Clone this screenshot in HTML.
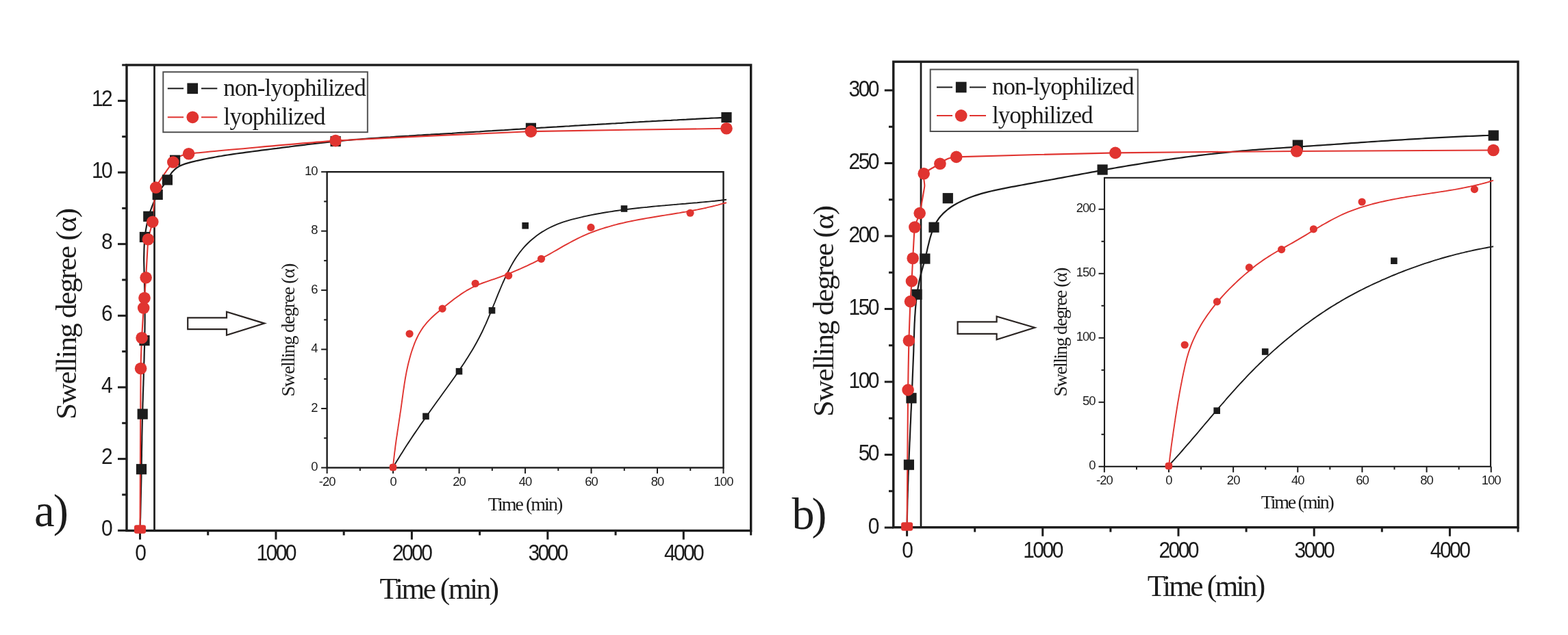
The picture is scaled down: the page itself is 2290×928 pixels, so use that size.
<!DOCTYPE html>
<html lang="en"><head><meta charset="utf-8"><title>Swelling degree vs. time</title>
<style>html,body{margin:0;padding:0;background:#fff;overflow:hidden}svg{display:block;filter:blur(0.55px)}text{white-space:pre}</style>
</head><body>
<svg width="2290" height="928" viewBox="0 0 2290 928" role="img" aria-label="Swelling degree versus time for non-lyophilized and lyophilized samples, panels a and b">
<rect x="0" y="0" width="2290" height="928" fill="#ffffff"/>
<g id="panel-a">
<rect x="185.00" y="95.00" width="911.70" height="680.50" fill="none" stroke="#1c1c1c" stroke-width="3.40"/>
<line x1="225.50" y1="95.00" x2="225.50" y2="775.50" stroke="#1c1c1c" stroke-width="2.70" />
<line x1="172.00" y1="775.30" x2="185.00" y2="775.30" stroke="#1c1c1c" stroke-width="3.00" />
<text x="0" y="0" font-family='"Liberation Sans", sans-serif' font-size="33.00" text-anchor="end" fill="#1c1c1c" transform="translate(162.00 783.10) scale(0.9100 1)"  letter-spacing="-2.90">0</text>
<line x1="172.00" y1="670.64" x2="185.00" y2="670.64" stroke="#1c1c1c" stroke-width="3.00" />
<text x="0" y="0" font-family='"Liberation Sans", sans-serif' font-size="33.00" text-anchor="end" fill="#1c1c1c" transform="translate(162.00 678.44) scale(0.9100 1)"  letter-spacing="-2.90">2</text>
<line x1="172.00" y1="565.98" x2="185.00" y2="565.98" stroke="#1c1c1c" stroke-width="3.00" />
<text x="0" y="0" font-family='"Liberation Sans", sans-serif' font-size="33.00" text-anchor="end" fill="#1c1c1c" transform="translate(162.00 573.78) scale(0.9100 1)"  letter-spacing="-2.90">4</text>
<line x1="172.00" y1="461.32" x2="185.00" y2="461.32" stroke="#1c1c1c" stroke-width="3.00" />
<text x="0" y="0" font-family='"Liberation Sans", sans-serif' font-size="33.00" text-anchor="end" fill="#1c1c1c" transform="translate(162.00 469.12) scale(0.9100 1)"  letter-spacing="-2.90">6</text>
<line x1="172.00" y1="356.66" x2="185.00" y2="356.66" stroke="#1c1c1c" stroke-width="3.00" />
<text x="0" y="0" font-family='"Liberation Sans", sans-serif' font-size="33.00" text-anchor="end" fill="#1c1c1c" transform="translate(162.00 364.46) scale(0.9100 1)"  letter-spacing="-2.90">8</text>
<line x1="172.00" y1="252.00" x2="185.00" y2="252.00" stroke="#1c1c1c" stroke-width="3.00" />
<text x="0" y="0" font-family='"Liberation Sans", sans-serif' font-size="33.00" text-anchor="end" fill="#1c1c1c" transform="translate(162.00 259.80) scale(0.9100 1)"  letter-spacing="-2.90">10</text>
<line x1="172.00" y1="147.34" x2="185.00" y2="147.34" stroke="#1c1c1c" stroke-width="3.00" />
<text x="0" y="0" font-family='"Liberation Sans", sans-serif' font-size="33.00" text-anchor="end" fill="#1c1c1c" transform="translate(162.00 155.14) scale(0.9100 1)"  letter-spacing="-2.90">12</text>
<line x1="178.20" y1="722.97" x2="185.00" y2="722.97" stroke="#1c1c1c" stroke-width="3.00" />
<line x1="178.20" y1="618.31" x2="185.00" y2="618.31" stroke="#1c1c1c" stroke-width="3.00" />
<line x1="178.20" y1="513.65" x2="185.00" y2="513.65" stroke="#1c1c1c" stroke-width="3.00" />
<line x1="178.20" y1="408.99" x2="185.00" y2="408.99" stroke="#1c1c1c" stroke-width="3.00" />
<line x1="178.20" y1="304.33" x2="185.00" y2="304.33" stroke="#1c1c1c" stroke-width="3.00" />
<line x1="178.20" y1="199.67" x2="185.00" y2="199.67" stroke="#1c1c1c" stroke-width="3.00" />
<line x1="178.20" y1="95.00" x2="185.00" y2="95.00" stroke="#1c1c1c" stroke-width="3.00" />
<line x1="204.50" y1="775.50" x2="204.50" y2="788.50" stroke="#1c1c1c" stroke-width="3.00" />
<text x="0" y="0" font-family='"Liberation Sans", sans-serif' font-size="33.00" text-anchor="middle" fill="#1c1c1c" transform="translate(204.20 818.60) scale(0.9100 1)"  letter-spacing="-2.90">0</text>
<line x1="402.95" y1="775.50" x2="402.95" y2="788.50" stroke="#1c1c1c" stroke-width="3.00" />
<text x="0" y="0" font-family='"Liberation Sans", sans-serif' font-size="33.00" text-anchor="middle" fill="#1c1c1c" transform="translate(402.65 818.60) scale(0.9100 1)"  letter-spacing="-2.90">1000</text>
<line x1="601.40" y1="775.50" x2="601.40" y2="788.50" stroke="#1c1c1c" stroke-width="3.00" />
<text x="0" y="0" font-family='"Liberation Sans", sans-serif' font-size="33.00" text-anchor="middle" fill="#1c1c1c" transform="translate(601.10 818.60) scale(0.9100 1)"  letter-spacing="-2.90">2000</text>
<line x1="799.85" y1="775.50" x2="799.85" y2="788.50" stroke="#1c1c1c" stroke-width="3.00" />
<text x="0" y="0" font-family='"Liberation Sans", sans-serif' font-size="33.00" text-anchor="middle" fill="#1c1c1c" transform="translate(799.55 818.60) scale(0.9100 1)"  letter-spacing="-2.90">3000</text>
<line x1="998.30" y1="775.50" x2="998.30" y2="788.50" stroke="#1c1c1c" stroke-width="3.00" />
<text x="0" y="0" font-family='"Liberation Sans", sans-serif' font-size="33.00" text-anchor="middle" fill="#1c1c1c" transform="translate(998.00 818.60) scale(0.9100 1)"  letter-spacing="-2.90">4000</text>
<line x1="303.73" y1="775.50" x2="303.73" y2="782.30" stroke="#1c1c1c" stroke-width="3.00" />
<line x1="502.17" y1="775.50" x2="502.17" y2="782.30" stroke="#1c1c1c" stroke-width="3.00" />
<line x1="700.62" y1="775.50" x2="700.62" y2="782.30" stroke="#1c1c1c" stroke-width="3.00" />
<line x1="899.07" y1="775.50" x2="899.07" y2="782.30" stroke="#1c1c1c" stroke-width="3.00" />
<line x1="1096.70" y1="775.50" x2="1096.70" y2="782.30" stroke="#1c1c1c" stroke-width="3.00" />
<path d="M204.5 774.0L204.6 769.5L204.8 765.0L204.9 760.5L205.1 756.0L205.2 751.5L205.3 747.0L205.4 742.5L205.5 738.0L205.6 733.5L205.7 729.0L205.8 724.4L205.9 719.9L206.0 715.4L206.1 710.9L206.2 706.4L206.3 701.9L206.4 697.4L206.4 692.8L206.5 688.3L206.6 683.8L206.7 679.3L206.7 674.8L206.8 670.2L206.9 665.7L206.9 661.2L207.0 656.7L207.1 652.2L207.2 647.7L207.3 643.1L207.3 638.6L207.4 634.1L207.5 629.6L207.6 625.1L207.7 620.6L207.8 616.1L207.9 611.5L208.0 607.0L208.1 602.5L208.3 598.0L208.4 593.5L208.5 589.0L208.7 584.5L208.8 580.0L208.9 575.5L209.1 571.0L209.2 566.5L209.4 562.0L209.5 557.5L209.7 553.0L209.8 548.5L209.9 544.0L210.1 539.5L210.2 535.0L210.3 530.5L210.5 526.0L210.6 521.5L210.7 516.9L210.8 512.4L211.0 507.9L211.1 503.4L211.2 498.9L211.2 494.4L211.3 489.9L211.4 485.4L211.5 480.9L211.5 476.4L211.6 471.9L211.6 467.4L211.6 462.8L211.6 458.3L211.6 453.8L211.6 449.3L211.6 444.8L211.6 440.2L211.5 435.7L211.4 431.2L211.3 426.6L211.2 422.1L211.1 417.6L211.0 413.0L210.9 408.5L210.7 403.9L210.6 399.4L210.5 394.9L210.4 390.3L210.3 385.8L210.2 381.3L210.2 376.7L210.3 372.2L210.4 367.7L210.5 363.2L210.7 358.7L211.0 354.3L211.3 349.8L211.8 345.3L212.3 340.9L212.9 336.5L213.7 332.0L214.5 327.7L215.4 323.3L216.5 318.9L217.7 314.6L219.0 310.2L220.5 306.0L222.1 301.7L223.8 297.5L225.6 293.4L227.6 289.3L229.7 285.2L231.9 281.3L234.3 277.4L236.7 273.7L239.3 270.0L241.9 266.3L244.3 262.6L246.6 258.7L249.0 254.8L251.7 251.2L254.9 247.9L258.3 245.1L262.2 242.8L266.2 241.0L270.5 239.4L274.9 238.1L279.3 236.9L283.7 235.9L288.1 234.8L292.5 233.9L296.9 232.9L301.3 232.0L305.7 231.2L310.2 230.3L314.6 229.5L319.0 228.7L323.5 228.0L327.9 227.2L332.4 226.5L336.8 225.9L341.3 225.2L345.7 224.5L350.2 223.9L354.7 223.3L359.2 222.7L363.6 222.1L368.1 221.5L372.6 220.9L377.1 220.3L381.6 219.7L386.0 219.2L390.5 218.6L395.0 218.0L399.5 217.4L404.0 216.9L408.4 216.3L412.9 215.7L417.4 215.1L421.9 214.6L426.3 214.0L430.8 213.4L435.3 212.9L439.8 212.3L444.2 211.8L448.7 211.2L453.2 210.7L457.7 210.2L462.1 209.6L466.6 209.1L471.1 208.6L475.6 208.1L480.1 207.6L484.6 207.2L489.0 206.7L493.5 206.3L498.0 205.8L502.5 205.4L507.0 205.0L511.5 204.6L516.0 204.2L520.5 203.9L525.0 203.5L529.5 203.1L534.0 202.8L538.5 202.4L543.0 202.1L547.5 201.8L552.0 201.5L556.5 201.2L561.0 200.8L565.5 200.5L570.0 200.3L574.5 200.0L579.0 199.7L583.5 199.4L588.0 199.1L592.5 198.8L597.0 198.6L601.5 198.3L606.0 198.0L610.5 197.7L615.0 197.5L619.5 197.2L624.1 196.9L628.6 196.7L633.1 196.4L637.6 196.1L642.1 195.9L646.6 195.6L651.1 195.3L655.6 195.0L660.1 194.8L664.6 194.5L669.1 194.2L673.6 193.9L678.1 193.7L682.6 193.4L687.1 193.1L691.6 192.8L696.1 192.5L700.6 192.3L705.1 192.0L709.6 191.7L714.2 191.4L718.7 191.2L723.2 190.9L727.7 190.6L732.2 190.3L736.7 190.1L741.2 189.8L745.7 189.5L750.2 189.2L754.7 188.9L759.2 188.7L763.7 188.4L768.2 188.1L772.7 187.8L777.2 187.6L781.7 187.3L786.2 187.0L790.7 186.7L795.2 186.5L799.7 186.2L804.2 185.9L808.7 185.6L813.2 185.4L817.7 185.1L822.2 184.8L826.7 184.5L831.2 184.3L835.7 184.0L840.2 183.7L844.7 183.5L849.3 183.2L853.8 182.9L858.3 182.7L862.8 182.4L867.3 182.1L871.8 181.9L876.3 181.6L880.8 181.3L885.3 181.1L889.8 180.8L894.3 180.5L898.8 180.3L903.3 180.0L907.8 179.8L912.3 179.5L916.8 179.2L921.3 179.0L925.8 178.7L930.3 178.5L934.8 178.2L939.3 178.0L943.8 177.7L948.3 177.5L952.8 177.2L957.3 177.0L961.9 176.7L966.4 176.5L970.9 176.2L975.4 176.0L979.9 175.8L984.4 175.5L988.9 175.3L993.4 175.0L997.9 174.8L1002.4 174.6L1006.9 174.3L1011.4 174.1L1015.9 173.9L1020.4 173.6L1024.9 173.4L1029.4 173.2L1034.0 173.0L1038.5 172.7L1043.0 172.5L1047.5 172.3L1052.0 172.1L1056.5 171.9L1061.0 171.6" fill="none" stroke="#1c1c1c" stroke-width="2.20" stroke-linejoin="round" stroke-linecap="butt"/>
<path d="M204.5 774.0C204.6 758.3 205.4 557.2 205.6 538.5C205.8 519.8 206.8 499.6 207.1 493.7C207.4 487.8 209.4 453.9 209.7 450.0C210.0 446.1 210.8 438.4 211.0 435.5C211.2 432.6 212.7 411.5 213.1 405.8C213.5 400.1 215.8 355.1 216.4 349.7C217.0 344.3 222.0 329.3 222.8 324.3C223.6 319.3 225.7 279.8 227.7 274.0C229.7 268.2 249.6 240.3 252.8 237.0C256.0 233.7 259.8 226.8 275.6 224.7C291.4 222.6 456.8 207.8 490.1 205.6C523.4 203.4 737.3 193.3 775.4 192.1C813.5 190.9 1042.0 188.1 1061.0 187.8" fill="none" stroke="#e03430" stroke-width="2.10" stroke-linejoin="round" stroke-linecap="butt"/>
<rect x="198.90" y="678.10" width="15.20" height="15.20" fill="#1c1c1c"/>
<rect x="200.60" y="597.50" width="15.20" height="15.20" fill="#1c1c1c"/>
<rect x="203.40" y="490.00" width="15.20" height="15.20" fill="#1c1c1c"/>
<rect x="203.80" y="338.90" width="15.20" height="15.20" fill="#1c1c1c"/>
<rect x="209.20" y="308.70" width="15.20" height="15.20" fill="#1c1c1c"/>
<rect x="222.60" y="276.80" width="15.20" height="15.20" fill="#1c1c1c"/>
<rect x="236.80" y="255.30" width="15.20" height="15.20" fill="#1c1c1c"/>
<rect x="248.00" y="226.60" width="15.20" height="15.20" fill="#1c1c1c"/>
<rect x="482.50" y="198.90" width="15.20" height="15.20" fill="#1c1c1c"/>
<rect x="767.80" y="179.70" width="15.20" height="15.20" fill="#1c1c1c"/>
<rect x="1053.40" y="164.00" width="15.20" height="15.20" fill="#1c1c1c"/>
<circle cx="205.60" cy="538.50" r="8.80" fill="#e03430"/>
<circle cx="207.10" cy="493.70" r="8.80" fill="#e03430"/>
<circle cx="209.70" cy="450.00" r="8.80" fill="#e03430"/>
<circle cx="211.00" cy="435.50" r="8.80" fill="#e03430"/>
<circle cx="213.10" cy="405.80" r="8.80" fill="#e03430"/>
<circle cx="216.40" cy="349.70" r="8.80" fill="#e03430"/>
<circle cx="222.80" cy="324.30" r="8.80" fill="#e03430"/>
<circle cx="227.70" cy="274.00" r="8.80" fill="#e03430"/>
<circle cx="252.80" cy="237.00" r="8.80" fill="#e03430"/>
<circle cx="275.60" cy="224.70" r="8.80" fill="#e03430"/>
<circle cx="490.10" cy="205.60" r="8.80" fill="#e03430"/>
<circle cx="775.40" cy="192.10" r="8.80" fill="#e03430"/>
<circle cx="1061.00" cy="187.80" r="8.80" fill="#e03430"/>
<rect x="196.00" y="767.35" width="17.00" height="12.50" rx="3.0" fill="#e03430"/>
<text x="111.30" y="458.50" font-family='"Liberation Serif", serif' font-size="43.00" text-anchor="middle" fill="#1c1c1c" textLength="309.00" lengthAdjust="spacing" transform="rotate(-90 111.30 458.50)" >Swelling degree (α)</text>
<text x="641.80" y="875.00" font-family='"Liberation Serif", serif' font-size="43.50" text-anchor="middle" fill="#1c1c1c" textLength="174.50" lengthAdjust="spacing" >Time (min)</text>
<text x="50.00" y="769.30" font-family='"Liberation Serif", serif' font-size="67.00" text-anchor="start" fill="#1c1c1c" textLength="50.00" lengthAdjust="spacing" >a)</text>
<rect x="238.30" y="105.20" width="298.50" height="88.00" fill="#fff" stroke="#505050" stroke-width="2.00"/>
<line x1="244.80" y1="129.30" x2="268.10" y2="129.30" stroke="#1c1c1c" stroke-width="2.00" />
<line x1="294.00" y1="129.30" x2="317.30" y2="129.30" stroke="#1c1c1c" stroke-width="2.00" />
<rect x="273.35" y="121.45" width="15.70" height="15.70" fill="#1c1c1c"/>
<text x="326.20" y="140.00" font-family='"Liberation Serif", serif' font-size="35.00" text-anchor="start" fill="#1c1c1c" textLength="208.50" lengthAdjust="spacing" >non-lyophilized</text>
<line x1="244.80" y1="171.30" x2="268.10" y2="171.30" stroke="#e03430" stroke-width="2.00" />
<line x1="294.00" y1="171.30" x2="317.30" y2="171.30" stroke="#e03430" stroke-width="2.00" />
<circle cx="281.30" cy="171.30" r="8.90" fill="#e03430"/>
<text x="326.60" y="182.00" font-family='"Liberation Serif", serif' font-size="35.00" text-anchor="start" fill="#1c1c1c" textLength="149.00" lengthAdjust="spacing" >lyophilized</text>
<path d="M274.2 464.3 L331 464.3 L331 455.8 L386.2 472.6 L331 489.7 L331 481.2 L274.2 481.2 Z" fill="#fff" stroke="#2a2422" stroke-width="2.20" stroke-linejoin="miter"/>
<rect x="477.60" y="251.20" width="578.90" height="432.30" fill="none" stroke="#1c1c1c" stroke-width="2.40"/>
<line x1="469.10" y1="683.50" x2="477.60" y2="683.50" stroke="#1c1c1c" stroke-width="2.00" />
<text x="0" y="0" font-family='"Liberation Sans", sans-serif' font-size="19.00" text-anchor="end" fill="#1c1c1c" transform="translate(463.60 688.20) scale(0.9700 1)"  letter-spacing="-1.00">0</text>
<line x1="469.10" y1="597.04" x2="477.60" y2="597.04" stroke="#1c1c1c" stroke-width="2.00" />
<text x="0" y="0" font-family='"Liberation Sans", sans-serif' font-size="19.00" text-anchor="end" fill="#1c1c1c" transform="translate(463.60 601.74) scale(0.9700 1)"  letter-spacing="-1.00">2</text>
<line x1="469.10" y1="510.58" x2="477.60" y2="510.58" stroke="#1c1c1c" stroke-width="2.00" />
<text x="0" y="0" font-family='"Liberation Sans", sans-serif' font-size="19.00" text-anchor="end" fill="#1c1c1c" transform="translate(463.60 515.28) scale(0.9700 1)"  letter-spacing="-1.00">4</text>
<line x1="469.10" y1="424.12" x2="477.60" y2="424.12" stroke="#1c1c1c" stroke-width="2.00" />
<text x="0" y="0" font-family='"Liberation Sans", sans-serif' font-size="19.00" text-anchor="end" fill="#1c1c1c" transform="translate(463.60 428.82) scale(0.9700 1)"  letter-spacing="-1.00">6</text>
<line x1="469.10" y1="337.66" x2="477.60" y2="337.66" stroke="#1c1c1c" stroke-width="2.00" />
<text x="0" y="0" font-family='"Liberation Sans", sans-serif' font-size="19.00" text-anchor="end" fill="#1c1c1c" transform="translate(463.60 342.36) scale(0.9700 1)"  letter-spacing="-1.00">8</text>
<line x1="469.10" y1="251.20" x2="477.60" y2="251.20" stroke="#1c1c1c" stroke-width="2.00" />
<text x="0" y="0" font-family='"Liberation Sans", sans-serif' font-size="19.00" text-anchor="end" fill="#1c1c1c" transform="translate(463.60 255.90) scale(0.9700 1)"  letter-spacing="-1.00">10</text>
<line x1="473.10" y1="640.27" x2="477.60" y2="640.27" stroke="#1c1c1c" stroke-width="2.00" />
<line x1="473.10" y1="553.81" x2="477.60" y2="553.81" stroke="#1c1c1c" stroke-width="2.00" />
<line x1="473.10" y1="467.35" x2="477.60" y2="467.35" stroke="#1c1c1c" stroke-width="2.00" />
<line x1="473.10" y1="380.89" x2="477.60" y2="380.89" stroke="#1c1c1c" stroke-width="2.00" />
<line x1="473.10" y1="294.43" x2="477.60" y2="294.43" stroke="#1c1c1c" stroke-width="2.00" />
<line x1="477.62" y1="683.50" x2="477.62" y2="692.00" stroke="#1c1c1c" stroke-width="2.00" />
<text x="0" y="0" font-family='"Liberation Sans", sans-serif' font-size="19.00" text-anchor="middle" fill="#1c1c1c" transform="translate(477.62 710.40) scale(0.9700 1)"  letter-spacing="-1.00">-20</text>
<line x1="574.10" y1="683.50" x2="574.10" y2="692.00" stroke="#1c1c1c" stroke-width="2.00" />
<text x="0" y="0" font-family='"Liberation Sans", sans-serif' font-size="19.00" text-anchor="middle" fill="#1c1c1c" transform="translate(574.10 710.40) scale(0.9700 1)"  letter-spacing="-1.00">0</text>
<line x1="670.58" y1="683.50" x2="670.58" y2="692.00" stroke="#1c1c1c" stroke-width="2.00" />
<text x="0" y="0" font-family='"Liberation Sans", sans-serif' font-size="19.00" text-anchor="middle" fill="#1c1c1c" transform="translate(670.58 710.40) scale(0.9700 1)"  letter-spacing="-1.00">20</text>
<line x1="767.06" y1="683.50" x2="767.06" y2="692.00" stroke="#1c1c1c" stroke-width="2.00" />
<text x="0" y="0" font-family='"Liberation Sans", sans-serif' font-size="19.00" text-anchor="middle" fill="#1c1c1c" transform="translate(767.06 710.40) scale(0.9700 1)"  letter-spacing="-1.00">40</text>
<line x1="863.54" y1="683.50" x2="863.54" y2="692.00" stroke="#1c1c1c" stroke-width="2.00" />
<text x="0" y="0" font-family='"Liberation Sans", sans-serif' font-size="19.00" text-anchor="middle" fill="#1c1c1c" transform="translate(863.54 710.40) scale(0.9700 1)"  letter-spacing="-1.00">60</text>
<line x1="960.02" y1="683.50" x2="960.02" y2="692.00" stroke="#1c1c1c" stroke-width="2.00" />
<text x="0" y="0" font-family='"Liberation Sans", sans-serif' font-size="19.00" text-anchor="middle" fill="#1c1c1c" transform="translate(960.02 710.40) scale(0.9700 1)"  letter-spacing="-1.00">80</text>
<line x1="1056.50" y1="683.50" x2="1056.50" y2="692.00" stroke="#1c1c1c" stroke-width="2.00" />
<text x="0" y="0" font-family='"Liberation Sans", sans-serif' font-size="19.00" text-anchor="middle" fill="#1c1c1c" transform="translate(1056.50 710.40) scale(0.9700 1)"  letter-spacing="-1.00">100</text>
<line x1="525.86" y1="683.50" x2="525.86" y2="688.00" stroke="#1c1c1c" stroke-width="2.00" />
<line x1="622.34" y1="683.50" x2="622.34" y2="688.00" stroke="#1c1c1c" stroke-width="2.00" />
<line x1="718.82" y1="683.50" x2="718.82" y2="688.00" stroke="#1c1c1c" stroke-width="2.00" />
<line x1="815.30" y1="683.50" x2="815.30" y2="688.00" stroke="#1c1c1c" stroke-width="2.00" />
<line x1="911.78" y1="683.50" x2="911.78" y2="688.00" stroke="#1c1c1c" stroke-width="2.00" />
<line x1="1008.26" y1="683.50" x2="1008.26" y2="688.00" stroke="#1c1c1c" stroke-width="2.00" />
<path d="M574.0 683.0L576.3 679.3L578.5 675.6L580.7 671.9L583.0 668.2L585.3 664.5L587.6 660.9L589.9 657.2L592.2 653.6L594.5 650.0L596.9 646.4L599.3 642.8L601.6 639.2L604.0 635.6L606.4 632.1L608.9 628.5L611.3 625.0L613.7 621.4L616.2 617.9L618.7 614.4L621.1 610.9L623.6 607.3L626.1 603.8L628.6 600.3L631.1 596.8L633.6 593.3L636.1 589.8L638.6 586.3L641.2 582.8L643.7 579.3L646.2 575.8L648.7 572.3L651.3 568.8L653.8 565.3L656.3 561.8L658.8 558.2L661.3 554.7L663.8 551.2L666.3 547.6L668.7 544.1L671.2 540.5L673.6 536.9L676.0 533.3L678.4 529.7L680.7 526.1L683.0 522.5L685.3 518.8L687.6 515.1L689.8 511.4L692.0 507.7L694.1 504.0L696.2 500.2L698.2 496.5L700.2 492.7L702.2 488.8L704.1 485.0L705.9 481.1L707.7 477.2L709.5 473.3L711.2 469.3L712.9 465.4L714.6 461.4L716.3 457.4L717.9 453.4L719.5 449.5L721.1 445.5L722.8 441.5L724.4 437.4L726.0 433.4L727.6 429.4L729.3 425.4L730.9 421.5L732.6 417.5L734.3 413.5L736.1 409.6L737.9 405.6L739.7 401.7L741.6 397.8L743.6 394.0L745.6 390.1L747.7 386.4L749.9 382.6L752.1 378.9L754.5 375.3L757.0 371.8L759.5 368.3L762.2 365.0L765.0 361.7L767.9 358.5L770.9 355.5L774.0 352.5L777.2 349.7L780.6 346.9L784.0 344.3L787.5 341.8L791.0 339.4L794.7 337.2L798.4 335.0L802.2 333.0L806.1 331.1L810.0 329.4L814.0 327.7L818.0 326.2L822.1 324.7L826.2 323.4L830.3 322.1L834.5 320.9L838.7 319.8L842.9 318.8L847.1 317.8L851.3 316.8L855.6 315.9L859.8 315.0L864.0 314.1L868.3 313.3L872.5 312.5L876.8 311.8L881.0 311.0L885.3 310.3L889.5 309.6L893.8 309.0L898.1 308.3L902.3 307.7L906.6 307.1L910.9 306.6L915.1 306.0L919.4 305.5L923.7 305.0L928.0 304.5L932.2 304.0L936.5 303.5L940.8 303.1L945.1 302.7L949.4 302.2L953.7 301.8L957.9 301.4L962.2 301.0L966.5 300.6L970.8 300.3L975.1 299.9L979.4 299.5L983.7 299.1L988.0 298.8L992.3 298.4L996.6 298.0L1000.9 297.7L1005.2 297.3L1009.5 296.9L1013.8 296.5L1018.1 296.2L1022.4 295.8L1026.7 295.4L1031.0 295.0L1035.2 294.6L1039.5 294.1L1043.8 293.7L1048.1 293.2L1052.4 292.8L1056.7 292.3L1061.0 291.8" fill="none" stroke="#1c1c1c" stroke-width="1.90" stroke-linejoin="round" stroke-linecap="butt"/>
<path d="M574.0 683.0L574.4 678.6L574.8 674.2L575.3 669.8L575.8 665.5L576.3 661.1L576.9 656.8L577.4 652.4L578.0 648.1L578.6 643.7L579.2 639.4L579.9 635.1L580.5 630.7L581.2 626.4L581.8 622.1L582.5 617.7L583.1 613.4L583.8 609.1L584.4 604.7L585.1 600.4L585.7 596.0L586.3 591.7L586.9 587.3L587.5 583.0L588.1 578.6L588.7 574.2L589.3 569.9L590.0 565.5L590.6 561.2L591.3 556.8L592.0 552.5L592.8 548.2L593.6 543.8L594.5 539.5L595.4 535.2L596.4 531.0L597.5 526.7L598.6 522.5L599.8 518.2L601.1 514.0L602.5 509.9L604.0 505.7L605.5 501.6L607.2 497.5L609.1 493.5L611.0 489.6L613.2 485.7L615.5 482.0L617.9 478.4L620.6 475.0L623.3 471.6L626.3 468.4L629.3 465.3L632.5 462.3L635.8 459.3L639.1 456.5L642.5 453.7L646.0 450.9L649.4 448.1L652.8 445.3L656.3 442.5L659.8 439.8L663.3 437.1L666.8 434.5L670.4 431.9L674.0 429.4L677.7 427.0L681.4 424.7L685.2 422.6L689.0 420.5L693.0 418.6L696.9 416.8L701.0 415.1L705.1 413.5L709.2 412.1L713.4 410.6L717.6 409.2L721.7 407.8L725.9 406.3L730.0 404.8L734.1 403.3L738.2 401.8L742.3 400.2L746.4 398.6L750.4 396.9L754.4 395.2L758.5 393.5L762.5 391.7L766.4 389.9L770.4 388.1L774.3 386.2L778.3 384.3L782.2 382.3L786.1 380.3L790.0 378.3L793.8 376.2L797.7 374.0L801.6 371.9L805.4 369.7L809.2 367.5L813.1 365.3L816.9 363.1L820.7 360.9L824.6 358.7L828.4 356.6L832.3 354.5L836.2 352.4L840.1 350.4L844.0 348.4L847.9 346.5L851.9 344.6L855.9 342.9L859.9 341.2L864.0 339.6L868.1 338.0L872.1 336.6L876.3 335.1L880.4 333.8L884.6 332.5L888.8 331.3L893.0 330.1L897.2 328.9L901.4 327.8L905.7 326.8L909.9 325.8L914.2 324.8L918.5 323.9L922.8 323.0L927.1 322.1L931.5 321.3L935.8 320.5L940.1 319.7L944.5 318.9L948.8 318.2L953.2 317.5L957.6 316.7L961.9 316.0L966.3 315.3L970.7 314.6L975.0 313.9L979.4 313.2L983.8 312.5L988.1 311.8L992.5 311.1L996.8 310.3L1001.2 309.6L1005.5 308.8L1009.9 308.0L1014.2 307.2L1018.5 306.4L1022.8 305.5L1027.1 304.6L1031.4 303.7L1035.6 302.7L1039.9 301.7L1044.1 300.7L1048.3 299.6L1052.5 298.4L1056.7 297.2L1061.0 296.2" fill="none" stroke="#e03430" stroke-width="1.90" stroke-linejoin="round" stroke-linecap="butt"/>
<rect x="617.20" y="603.60" width="9.60" height="9.60" fill="#1c1c1c"/>
<rect x="665.70" y="537.90" width="9.60" height="9.60" fill="#1c1c1c"/>
<rect x="713.70" y="448.90" width="9.60" height="9.60" fill="#1c1c1c"/>
<rect x="762.40" y="325.00" width="9.60" height="9.60" fill="#1c1c1c"/>
<rect x="906.70" y="300.20" width="9.60" height="9.60" fill="#1c1c1c"/>
<rect x="568.75" y="677.75" width="10.50" height="10.50" rx="4.0" fill="#e03430"/>
<circle cx="598.10" cy="487.80" r="5.60" fill="#e03430"/>
<circle cx="646.10" cy="451.10" r="5.60" fill="#e03430"/>
<circle cx="694.20" cy="414.30" r="5.60" fill="#e03430"/>
<circle cx="742.70" cy="402.80" r="5.60" fill="#e03430"/>
<circle cx="790.50" cy="378.30" r="5.60" fill="#e03430"/>
<circle cx="863.00" cy="332.40" r="5.60" fill="#e03430"/>
<circle cx="1008.00" cy="311.25" r="5.60" fill="#e03430"/>
<text x="430.20" y="482.00" font-family='"Liberation Serif", serif' font-size="27.50" text-anchor="middle" fill="#1c1c1c" textLength="195.00" lengthAdjust="spacing" transform="rotate(-90 430.20 482.00)" >Swelling degree (α)</text>
<text x="767.50" y="746.40" font-family='"Liberation Serif", serif' font-size="28.00" text-anchor="middle" fill="#1c1c1c" textLength="109.50" lengthAdjust="spacing" >Time (min)</text>
</g>
<g id="panel-b">
<rect x="1304.80" y="90.20" width="912.20" height="680.50" fill="none" stroke="#1c1c1c" stroke-width="3.40"/>
<line x1="1345.00" y1="90.20" x2="1345.00" y2="770.70" stroke="#1c1c1c" stroke-width="2.70" />
<line x1="1291.80" y1="771.00" x2="1304.80" y2="771.00" stroke="#1c1c1c" stroke-width="3.00" />
<text x="0" y="0" font-family='"Liberation Sans", sans-serif' font-size="33.00" text-anchor="end" fill="#1c1c1c" transform="translate(1282.00 779.60) scale(0.9100 1)"  letter-spacing="-2.80">0</text>
<line x1="1291.80" y1="664.50" x2="1304.80" y2="664.50" stroke="#1c1c1c" stroke-width="3.00" />
<text x="0" y="0" font-family='"Liberation Sans", sans-serif' font-size="33.00" text-anchor="end" fill="#1c1c1c" transform="translate(1282.00 673.10) scale(0.9100 1)"  letter-spacing="-2.80">50</text>
<line x1="1291.80" y1="558.00" x2="1304.80" y2="558.00" stroke="#1c1c1c" stroke-width="3.00" />
<text x="0" y="0" font-family='"Liberation Sans", sans-serif' font-size="33.00" text-anchor="end" fill="#1c1c1c" transform="translate(1282.00 566.60) scale(0.9100 1)"  letter-spacing="-2.80">100</text>
<line x1="1291.80" y1="451.50" x2="1304.80" y2="451.50" stroke="#1c1c1c" stroke-width="3.00" />
<text x="0" y="0" font-family='"Liberation Sans", sans-serif' font-size="33.00" text-anchor="end" fill="#1c1c1c" transform="translate(1282.00 460.10) scale(0.9100 1)"  letter-spacing="-2.80">150</text>
<line x1="1291.80" y1="345.00" x2="1304.80" y2="345.00" stroke="#1c1c1c" stroke-width="3.00" />
<text x="0" y="0" font-family='"Liberation Sans", sans-serif' font-size="33.00" text-anchor="end" fill="#1c1c1c" transform="translate(1282.00 353.60) scale(0.9100 1)"  letter-spacing="-2.80">200</text>
<line x1="1291.80" y1="238.50" x2="1304.80" y2="238.50" stroke="#1c1c1c" stroke-width="3.00" />
<text x="0" y="0" font-family='"Liberation Sans", sans-serif' font-size="33.00" text-anchor="end" fill="#1c1c1c" transform="translate(1282.00 247.10) scale(0.9100 1)"  letter-spacing="-2.80">250</text>
<line x1="1291.80" y1="132.00" x2="1304.80" y2="132.00" stroke="#1c1c1c" stroke-width="3.00" />
<text x="0" y="0" font-family='"Liberation Sans", sans-serif' font-size="33.00" text-anchor="end" fill="#1c1c1c" transform="translate(1282.00 140.60) scale(0.9100 1)"  letter-spacing="-2.80">300</text>
<line x1="1298.00" y1="717.75" x2="1304.80" y2="717.75" stroke="#1c1c1c" stroke-width="3.00" />
<line x1="1298.00" y1="611.25" x2="1304.80" y2="611.25" stroke="#1c1c1c" stroke-width="3.00" />
<line x1="1298.00" y1="504.75" x2="1304.80" y2="504.75" stroke="#1c1c1c" stroke-width="3.00" />
<line x1="1298.00" y1="398.25" x2="1304.80" y2="398.25" stroke="#1c1c1c" stroke-width="3.00" />
<line x1="1298.00" y1="291.75" x2="1304.80" y2="291.75" stroke="#1c1c1c" stroke-width="3.00" />
<line x1="1298.00" y1="185.25" x2="1304.80" y2="185.25" stroke="#1c1c1c" stroke-width="3.00" />
<line x1="1324.60" y1="770.70" x2="1324.60" y2="783.70" stroke="#1c1c1c" stroke-width="3.00" />
<text x="0" y="0" font-family='"Liberation Sans", sans-serif' font-size="33.00" text-anchor="middle" fill="#1c1c1c" transform="translate(1324.30 814.50) scale(0.9100 1)"  letter-spacing="-2.80">0</text>
<line x1="1522.80" y1="770.70" x2="1522.80" y2="783.70" stroke="#1c1c1c" stroke-width="3.00" />
<text x="0" y="0" font-family='"Liberation Sans", sans-serif' font-size="33.00" text-anchor="middle" fill="#1c1c1c" transform="translate(1522.50 814.50) scale(0.9100 1)"  letter-spacing="-2.80">1000</text>
<line x1="1721.00" y1="770.70" x2="1721.00" y2="783.70" stroke="#1c1c1c" stroke-width="3.00" />
<text x="0" y="0" font-family='"Liberation Sans", sans-serif' font-size="33.00" text-anchor="middle" fill="#1c1c1c" transform="translate(1720.70 814.50) scale(0.9100 1)"  letter-spacing="-2.80">2000</text>
<line x1="1919.20" y1="770.70" x2="1919.20" y2="783.70" stroke="#1c1c1c" stroke-width="3.00" />
<text x="0" y="0" font-family='"Liberation Sans", sans-serif' font-size="33.00" text-anchor="middle" fill="#1c1c1c" transform="translate(1918.90 814.50) scale(0.9100 1)"  letter-spacing="-2.80">3000</text>
<line x1="2117.40" y1="770.70" x2="2117.40" y2="783.70" stroke="#1c1c1c" stroke-width="3.00" />
<text x="0" y="0" font-family='"Liberation Sans", sans-serif' font-size="33.00" text-anchor="middle" fill="#1c1c1c" transform="translate(2117.10 814.50) scale(0.9100 1)"  letter-spacing="-2.80">4000</text>
<line x1="1423.70" y1="770.70" x2="1423.70" y2="777.50" stroke="#1c1c1c" stroke-width="3.00" />
<line x1="1621.90" y1="770.70" x2="1621.90" y2="777.50" stroke="#1c1c1c" stroke-width="3.00" />
<line x1="1820.10" y1="770.70" x2="1820.10" y2="777.50" stroke="#1c1c1c" stroke-width="3.00" />
<line x1="2018.30" y1="770.70" x2="2018.30" y2="777.50" stroke="#1c1c1c" stroke-width="3.00" />
<line x1="2217.00" y1="770.70" x2="2217.00" y2="777.50" stroke="#1c1c1c" stroke-width="3.00" />
<path d="M1324.6 770.5L1324.7 765.5L1324.8 760.6L1324.9 755.6L1325.0 750.6L1325.1 745.7L1325.2 740.7L1325.3 735.8L1325.4 730.8L1325.6 725.8L1325.7 720.9L1325.9 715.9L1326.0 711.0L1326.2 706.0L1326.4 701.1L1326.5 696.1L1326.7 691.2L1326.9 686.2L1327.1 681.3L1327.3 676.3L1327.5 671.4L1327.7 666.5L1327.9 661.5L1328.1 656.6L1328.3 651.6L1328.5 646.7L1328.8 641.7L1329.0 636.8L1329.2 631.9L1329.4 626.9L1329.6 622.0L1329.9 617.0L1330.1 612.1L1330.3 607.1L1330.5 602.2L1330.8 597.3L1331.0 592.3L1331.2 587.4L1331.4 582.4L1331.7 577.5L1331.9 572.5L1332.1 567.6L1332.3 562.6L1332.5 557.7L1332.7 552.7L1332.9 547.7L1333.1 542.8L1333.3 537.8L1333.5 532.9L1333.7 527.9L1333.9 522.9L1334.1 518.0L1334.3 513.0L1334.4 508.0L1334.6 503.0L1334.7 498.1L1334.9 493.1L1335.1 488.1L1335.2 483.1L1335.4 478.1L1335.6 473.2L1335.9 468.2L1336.1 463.3L1336.5 458.3L1336.8 453.4L1337.2 448.4L1337.7 443.5L1338.2 438.6L1338.8 433.7L1339.4 428.8L1340.2 424.0L1341.0 419.1L1341.9 414.3L1342.8 409.5L1343.9 404.7L1345.1 399.9L1346.4 395.2L1347.7 390.4L1349.0 385.7L1350.3 380.9L1351.6 376.0L1352.8 371.1L1353.9 366.2L1355.0 361.3L1356.2 356.4L1357.4 351.5L1358.7 346.7L1360.2 341.9L1361.8 337.2L1363.6 332.6L1365.7 328.2L1368.0 323.9L1370.7 319.8L1373.7 316.0L1377.0 312.4L1380.6 309.1L1384.3 306.0L1388.3 303.0L1392.5 300.3L1396.8 297.8L1401.2 295.4L1405.7 293.2L1410.2 291.2L1414.8 289.3L1419.4 287.5L1424.1 285.9L1428.8 284.4L1433.6 282.9L1438.3 281.6L1443.2 280.4L1448.0 279.2L1452.8 278.1L1457.7 277.1L1462.6 276.1L1467.5 275.1L1472.3 274.2L1477.2 273.2L1482.1 272.3L1487.0 271.4L1491.9 270.5L1496.7 269.6L1501.6 268.7L1506.5 267.8L1511.3 266.9L1516.2 266.0L1521.0 265.1L1525.9 264.2L1530.8 263.4L1535.6 262.5L1540.5 261.6L1545.3 260.7L1550.2 259.8L1555.1 258.9L1559.9 258.0L1564.8 257.1L1569.7 256.2L1574.6 255.3L1579.4 254.4L1584.3 253.5L1589.2 252.6L1594.1 251.7L1598.9 250.8L1603.8 249.9L1608.7 249.0L1613.6 248.1L1618.5 247.2L1623.4 246.4L1628.3 245.5L1633.1 244.7L1638.0 243.8L1642.9 243.0L1647.8 242.2L1652.7 241.4L1657.6 240.6L1662.5 239.8L1667.4 239.0L1672.3 238.2L1677.2 237.4L1682.1 236.7L1687.0 235.9L1691.9 235.2L1696.8 234.5L1701.7 233.7L1706.6 233.0L1711.5 232.3L1716.4 231.7L1721.3 231.0L1726.2 230.3L1731.1 229.7L1736.0 229.0L1740.9 228.4L1745.9 227.8L1750.8 227.2L1755.7 226.6L1760.6 226.0L1765.5 225.4L1770.5 224.9L1775.4 224.3L1780.3 223.8L1785.2 223.3L1790.2 222.8L1795.1 222.3L1800.0 221.8L1804.9 221.3L1809.9 220.9L1814.8 220.4L1819.7 220.0L1824.7 219.6L1829.6 219.2L1834.6 218.8L1839.5 218.4L1844.5 218.1L1849.4 217.7L1854.3 217.4L1859.3 217.0L1864.2 216.7L1869.2 216.3L1874.1 216.0L1879.1 215.7L1884.0 215.3L1889.0 215.0L1893.9 214.7L1898.9 214.3L1903.8 214.0L1908.7 213.7L1913.7 213.3L1918.6 213.0L1923.6 212.7L1928.5 212.3L1933.5 212.0L1938.4 211.6L1943.4 211.3L1948.3 211.0L1953.2 210.6L1958.2 210.3L1963.1 209.9L1968.1 209.6L1973.0 209.2L1978.0 208.9L1982.9 208.6L1987.8 208.2L1992.8 207.9L1997.7 207.5L2002.7 207.2L2007.6 206.9L2012.6 206.5L2017.5 206.2L2022.5 205.9L2027.4 205.6L2032.3 205.2L2037.3 204.9L2042.2 204.6L2047.2 204.3L2052.1 204.0L2057.1 203.7L2062.0 203.4L2067.0 203.1L2071.9 202.8L2076.8 202.5L2081.8 202.2L2086.7 201.9L2091.7 201.7L2096.6 201.4L2101.6 201.1L2106.5 200.9L2111.5 200.6L2116.4 200.4L2121.4 200.1L2126.3 199.9L2131.3 199.6L2136.2 199.4L2141.2 199.2L2146.1 199.0L2151.1 198.8L2156.0 198.6L2161.0 198.4L2165.9 198.2L2170.9 198.0L2175.8 197.9L2180.8 197.7" fill="none" stroke="#1c1c1c" stroke-width="2.20" stroke-linejoin="round" stroke-linecap="butt"/>
<path d="M1324.6 770.5C1324.7 757.1 1325.9 588.1 1326.1 569.9C1326.3 551.7 1327.2 506.3 1327.4 497.7C1327.6 489.1 1329.2 446.4 1329.5 440.6C1329.8 434.8 1331.3 415.1 1331.5 410.9C1331.7 406.7 1332.9 382.8 1333.2 377.5C1333.5 372.2 1335.2 336.4 1335.9 332.0C1336.6 327.6 1342.2 315.6 1343.2 311.6C1344.2 307.6 1349.9 275.9 1350.3 272.0C1350.7 268.1 1347.7 256.0 1349.2 253.8C1350.7 251.6 1369.7 240.8 1372.9 239.2C1376.1 237.6 1379.6 230.5 1396.7 229.4C1413.8 228.3 1595.8 224.0 1628.9 223.4C1662.0 222.8 1856.9 221.3 1893.7 221.0C1930.5 220.7 2161.8 219.6 2181.0 219.5" fill="none" stroke="#e03430" stroke-width="2.10" stroke-linejoin="round" stroke-linecap="butt"/>
<rect x="1319.80" y="671.60" width="15.20" height="15.20" fill="#1c1c1c"/>
<rect x="1323.40" y="574.20" width="15.20" height="15.20" fill="#1c1c1c"/>
<rect x="1331.40" y="422.70" width="15.20" height="15.20" fill="#1c1c1c"/>
<rect x="1343.30" y="370.50" width="15.20" height="15.20" fill="#1c1c1c"/>
<rect x="1356.40" y="324.60" width="15.20" height="15.20" fill="#1c1c1c"/>
<rect x="1376.70" y="282.10" width="15.20" height="15.20" fill="#1c1c1c"/>
<rect x="1602.50" y="240.40" width="15.20" height="15.20" fill="#1c1c1c"/>
<rect x="1887.70" y="204.50" width="15.20" height="15.20" fill="#1c1c1c"/>
<rect x="2173.60" y="190.40" width="15.20" height="15.20" fill="#1c1c1c"/>
<circle cx="1326.10" cy="569.90" r="8.80" fill="#e03430"/>
<circle cx="1327.40" cy="497.70" r="8.80" fill="#e03430"/>
<circle cx="1329.50" cy="440.60" r="8.80" fill="#e03430"/>
<circle cx="1331.50" cy="410.90" r="8.80" fill="#e03430"/>
<circle cx="1333.20" cy="377.50" r="8.80" fill="#e03430"/>
<circle cx="1335.90" cy="332.00" r="8.80" fill="#e03430"/>
<circle cx="1343.20" cy="311.60" r="8.80" fill="#e03430"/>
<circle cx="1349.20" cy="253.80" r="8.80" fill="#e03430"/>
<circle cx="1372.90" cy="239.20" r="8.80" fill="#e03430"/>
<circle cx="1396.70" cy="229.40" r="8.80" fill="#e03430"/>
<circle cx="1628.90" cy="223.40" r="8.80" fill="#e03430"/>
<circle cx="1893.70" cy="221.00" r="8.80" fill="#e03430"/>
<circle cx="2181.00" cy="219.50" r="8.80" fill="#e03430"/>
<rect x="1316.10" y="763.35" width="17.00" height="12.50" rx="3.0" fill="#e03430"/>
<text x="1216.50" y="454.50" font-family='"Liberation Serif", serif' font-size="43.00" text-anchor="middle" fill="#1c1c1c" textLength="309.00" lengthAdjust="spacing" transform="rotate(-90 1216.50 454.50)" >Swelling degree (α)</text>
<text x="1762.00" y="870.50" font-family='"Liberation Serif", serif' font-size="43.50" text-anchor="middle" fill="#1c1c1c" textLength="172.50" lengthAdjust="spacing" >Time (min)</text>
<text x="1156.50" y="772.50" font-family='"Liberation Serif", serif' font-size="66.00" text-anchor="start" fill="#1c1c1c" textLength="51.00" lengthAdjust="spacing" >b)</text>
<rect x="1358.70" y="101.50" width="303.00" height="90.50" fill="#fff" stroke="#505050" stroke-width="2.00"/>
<line x1="1368.00" y1="127.50" x2="1391.00" y2="127.50" stroke="#1c1c1c" stroke-width="2.00" />
<line x1="1416.00" y1="127.50" x2="1440.00" y2="127.50" stroke="#1c1c1c" stroke-width="2.00" />
<rect x="1395.85" y="119.65" width="15.70" height="15.70" fill="#1c1c1c"/>
<text x="1448.90" y="138.00" font-family='"Liberation Serif", serif' font-size="35.00" text-anchor="start" fill="#1c1c1c" textLength="207.50" lengthAdjust="spacing" >non-lyophilized</text>
<line x1="1368.00" y1="169.00" x2="1391.00" y2="169.00" stroke="#e03430" stroke-width="2.00" />
<line x1="1416.00" y1="169.00" x2="1440.00" y2="169.00" stroke="#e03430" stroke-width="2.00" />
<circle cx="1403.70" cy="169.00" r="8.90" fill="#e03430"/>
<text x="1449.00" y="180.00" font-family='"Liberation Serif", serif' font-size="35.00" text-anchor="start" fill="#1c1c1c" textLength="147.50" lengthAdjust="spacing" >lyophilized</text>
<path d="M1398.6 470.4 L1455.6 470.4 L1455.6 462.4 L1511.2 478.7 L1455.6 496.2 L1455.6 487.8 L1398.6 487.8 Z" fill="#fff" stroke="#2a2422" stroke-width="2.20" stroke-linejoin="miter"/>
<rect x="1613.00" y="259.80" width="564.00" height="422.00" fill="none" stroke="#1c1c1c" stroke-width="2.10"/>
<line x1="1604.50" y1="681.80" x2="1613.00" y2="681.80" stroke="#1c1c1c" stroke-width="2.00" />
<text x="0" y="0" font-family='"Liberation Sans", sans-serif' font-size="19.00" text-anchor="end" fill="#1c1c1c" transform="translate(1599.50 686.40) scale(0.9700 1)"  letter-spacing="-1.00">0</text>
<line x1="1604.50" y1="587.80" x2="1613.00" y2="587.80" stroke="#1c1c1c" stroke-width="2.00" />
<text x="0" y="0" font-family='"Liberation Sans", sans-serif' font-size="19.00" text-anchor="end" fill="#1c1c1c" transform="translate(1599.50 592.40) scale(0.9700 1)"  letter-spacing="-1.00">50</text>
<line x1="1604.50" y1="493.80" x2="1613.00" y2="493.80" stroke="#1c1c1c" stroke-width="2.00" />
<text x="0" y="0" font-family='"Liberation Sans", sans-serif' font-size="19.00" text-anchor="end" fill="#1c1c1c" transform="translate(1599.50 498.40) scale(0.9700 1)"  letter-spacing="-1.00">100</text>
<line x1="1604.50" y1="399.80" x2="1613.00" y2="399.80" stroke="#1c1c1c" stroke-width="2.00" />
<text x="0" y="0" font-family='"Liberation Sans", sans-serif' font-size="19.00" text-anchor="end" fill="#1c1c1c" transform="translate(1599.50 404.40) scale(0.9700 1)"  letter-spacing="-1.00">150</text>
<line x1="1604.50" y1="305.80" x2="1613.00" y2="305.80" stroke="#1c1c1c" stroke-width="2.00" />
<text x="0" y="0" font-family='"Liberation Sans", sans-serif' font-size="19.00" text-anchor="end" fill="#1c1c1c" transform="translate(1599.50 310.40) scale(0.9700 1)"  letter-spacing="-1.00">200</text>
<line x1="1608.50" y1="634.80" x2="1613.00" y2="634.80" stroke="#1c1c1c" stroke-width="2.00" />
<line x1="1608.50" y1="540.80" x2="1613.00" y2="540.80" stroke="#1c1c1c" stroke-width="2.00" />
<line x1="1608.50" y1="446.80" x2="1613.00" y2="446.80" stroke="#1c1c1c" stroke-width="2.00" />
<line x1="1608.50" y1="352.80" x2="1613.00" y2="352.80" stroke="#1c1c1c" stroke-width="2.00" />
<line x1="1612.86" y1="681.80" x2="1612.86" y2="690.30" stroke="#1c1c1c" stroke-width="2.00" />
<text x="0" y="0" font-family='"Liberation Sans", sans-serif' font-size="19.00" text-anchor="middle" fill="#1c1c1c" transform="translate(1612.86 707.80) scale(0.9700 1)"  letter-spacing="-1.00">-20</text>
<line x1="1707.00" y1="681.80" x2="1707.00" y2="690.30" stroke="#1c1c1c" stroke-width="2.00" />
<text x="0" y="0" font-family='"Liberation Sans", sans-serif' font-size="19.00" text-anchor="middle" fill="#1c1c1c" transform="translate(1707.00 707.80) scale(0.9700 1)"  letter-spacing="-1.00">0</text>
<line x1="1801.14" y1="681.80" x2="1801.14" y2="690.30" stroke="#1c1c1c" stroke-width="2.00" />
<text x="0" y="0" font-family='"Liberation Sans", sans-serif' font-size="19.00" text-anchor="middle" fill="#1c1c1c" transform="translate(1801.14 707.80) scale(0.9700 1)"  letter-spacing="-1.00">20</text>
<line x1="1895.28" y1="681.80" x2="1895.28" y2="690.30" stroke="#1c1c1c" stroke-width="2.00" />
<text x="0" y="0" font-family='"Liberation Sans", sans-serif' font-size="19.00" text-anchor="middle" fill="#1c1c1c" transform="translate(1895.28 707.80) scale(0.9700 1)"  letter-spacing="-1.00">40</text>
<line x1="1989.42" y1="681.80" x2="1989.42" y2="690.30" stroke="#1c1c1c" stroke-width="2.00" />
<text x="0" y="0" font-family='"Liberation Sans", sans-serif' font-size="19.00" text-anchor="middle" fill="#1c1c1c" transform="translate(1989.42 707.80) scale(0.9700 1)"  letter-spacing="-1.00">60</text>
<line x1="2083.56" y1="681.80" x2="2083.56" y2="690.30" stroke="#1c1c1c" stroke-width="2.00" />
<text x="0" y="0" font-family='"Liberation Sans", sans-serif' font-size="19.00" text-anchor="middle" fill="#1c1c1c" transform="translate(2083.56 707.80) scale(0.9700 1)"  letter-spacing="-1.00">80</text>
<line x1="2177.70" y1="681.80" x2="2177.70" y2="690.30" stroke="#1c1c1c" stroke-width="2.00" />
<text x="0" y="0" font-family='"Liberation Sans", sans-serif' font-size="19.00" text-anchor="middle" fill="#1c1c1c" transform="translate(2177.70 707.80) scale(0.9700 1)"  letter-spacing="-1.00">100</text>
<line x1="1659.93" y1="681.80" x2="1659.93" y2="686.30" stroke="#1c1c1c" stroke-width="2.00" />
<line x1="1754.07" y1="681.80" x2="1754.07" y2="686.30" stroke="#1c1c1c" stroke-width="2.00" />
<line x1="1848.21" y1="681.80" x2="1848.21" y2="686.30" stroke="#1c1c1c" stroke-width="2.00" />
<line x1="1942.35" y1="681.80" x2="1942.35" y2="686.30" stroke="#1c1c1c" stroke-width="2.00" />
<line x1="2036.49" y1="681.80" x2="2036.49" y2="686.30" stroke="#1c1c1c" stroke-width="2.00" />
<line x1="2130.63" y1="681.80" x2="2130.63" y2="686.30" stroke="#1c1c1c" stroke-width="2.00" />
<path d="M1706.9 680.5L1709.4 677.8L1711.9 675.0L1714.4 672.3L1716.8 669.6L1719.3 666.8L1721.8 664.1L1724.2 661.3L1726.7 658.5L1729.1 655.7L1731.5 652.9L1733.9 650.2L1736.4 647.4L1738.8 644.6L1741.2 641.7L1743.6 638.9L1746.0 636.1L1748.4 633.3L1750.8 630.5L1753.1 627.7L1755.5 624.8L1757.9 622.0L1760.3 619.2L1762.7 616.4L1765.1 613.6L1767.5 610.7L1769.9 607.9L1772.2 605.1L1774.6 602.3L1777.0 599.5L1779.4 596.7L1781.8 593.9L1784.3 591.0L1786.7 588.3L1789.1 585.5L1791.5 582.7L1793.9 579.9L1796.4 577.1L1798.8 574.4L1801.3 571.6L1803.8 568.9L1806.2 566.1L1808.7 563.4L1811.2 560.7L1813.7 558.0L1816.2 555.3L1818.8 552.6L1821.3 549.9L1823.9 547.2L1826.4 544.6L1829.0 542.0L1831.6 539.3L1834.2 536.7L1836.9 534.1L1839.5 531.5L1842.2 529.0L1844.9 526.4L1847.5 523.9L1850.2 521.4L1853.0 518.9L1855.7 516.4L1858.4 513.9L1861.2 511.4L1864.0 509.0L1866.7 506.5L1869.5 504.1L1872.3 501.7L1875.2 499.3L1878.0 496.9L1880.9 494.6L1883.7 492.2L1886.6 489.9L1889.5 487.6L1892.4 485.3L1895.3 483.0L1898.2 480.8L1901.1 478.5L1904.1 476.3L1907.0 474.1L1910.0 471.9L1913.0 469.7L1916.0 467.5L1919.0 465.4L1922.0 463.2L1925.1 461.1L1928.1 459.1L1931.2 457.0L1934.3 455.0L1937.4 452.9L1940.5 450.9L1943.6 448.9L1946.7 447.0L1949.9 445.1L1953.0 443.1L1956.2 441.3L1959.4 439.4L1962.6 437.5L1965.8 435.7L1969.0 433.9L1972.2 432.1L1975.5 430.4L1978.7 428.6L1982.0 426.9L1985.3 425.2L1988.6 423.5L1991.9 421.8L1995.2 420.2L1998.5 418.6L2001.8 417.0L2005.2 415.4L2008.5 413.8L2011.9 412.3L2015.3 410.8L2018.6 409.2L2022.0 407.8L2025.4 406.3L2028.8 404.8L2032.2 403.4L2035.6 402.0L2039.1 400.6L2042.5 399.2L2045.9 397.8L2049.4 396.5L2052.8 395.2L2056.3 393.9L2059.7 392.6L2063.2 391.3L2066.7 390.1L2070.2 388.8L2073.7 387.6L2077.2 386.4L2080.7 385.2L2084.2 384.1L2087.7 383.0L2091.2 381.8L2094.8 380.7L2098.3 379.7L2101.8 378.6L2105.4 377.5L2108.9 376.5L2112.5 375.5L2116.1 374.5L2119.6 373.6L2123.2 372.6L2126.8 371.7L2130.4 370.8L2133.9 369.9L2137.5 369.1L2141.1 368.2L2144.7 367.4L2148.3 366.6L2152.0 365.8L2155.6 365.0L2159.2 364.3L2162.8 363.6L2166.4 362.9L2170.1 362.2L2173.7 361.5L2177.3 360.9L2181.0 360.3" fill="none" stroke="#1c1c1c" stroke-width="1.90" stroke-linejoin="round" stroke-linecap="butt"/>
<path d="M1706.9 680.5L1707.6 676.1L1708.2 671.7L1708.7 667.3L1709.3 662.9L1709.9 658.5L1710.4 654.1L1711.0 649.7L1711.6 645.4L1712.2 641.0L1712.9 636.6L1713.5 632.2L1714.1 627.8L1714.8 623.4L1715.4 619.1L1716.1 614.7L1716.7 610.3L1717.4 606.0L1718.1 601.6L1718.8 597.2L1719.5 592.9L1720.2 588.5L1721.0 584.1L1721.7 579.8L1722.5 575.4L1723.3 571.0L1724.1 566.7L1724.9 562.3L1725.8 558.0L1726.6 553.6L1727.5 549.2L1728.4 544.9L1729.4 540.5L1730.3 536.1L1731.3 531.8L1732.4 527.5L1733.5 523.1L1734.7 518.9L1736.0 514.6L1737.4 510.4L1738.9 506.3L1740.5 502.2L1742.2 498.1L1744.0 494.1L1745.9 490.1L1747.8 486.2L1749.9 482.3L1752.0 478.4L1754.2 474.6L1756.5 470.8L1758.9 467.1L1761.3 463.4L1763.8 459.8L1766.4 456.2L1769.0 452.6L1771.7 449.1L1774.5 445.6L1777.3 442.2L1780.2 438.8L1783.1 435.5L1786.1 432.1L1789.1 428.9L1792.2 425.6L1795.3 422.4L1798.4 419.3L1801.6 416.2L1804.9 413.1L1808.1 410.0L1811.4 407.0L1814.7 404.1L1818.1 401.1L1821.5 398.2L1824.9 395.4L1828.3 392.6L1831.7 389.8L1835.2 387.1L1838.7 384.5L1842.3 381.9L1845.9 379.4L1849.6 377.0L1853.3 374.6L1857.0 372.3L1860.8 370.0L1864.6 367.8L1868.4 365.6L1872.3 363.4L1876.1 361.3L1880.0 359.1L1883.8 357.0L1887.7 354.8L1891.5 352.6L1895.4 350.4L1899.2 348.1L1903.0 345.9L1906.9 343.6L1910.7 341.3L1914.5 338.9L1918.3 336.6L1922.2 334.3L1926.0 332.0L1929.8 329.7L1933.7 327.5L1937.6 325.3L1941.5 323.1L1945.4 321.0L1949.3 319.0L1953.3 317.0L1957.2 315.0L1961.2 313.2L1965.3 311.4L1969.3 309.7L1973.4 308.1L1977.5 306.6L1981.7 305.1L1985.8 303.7L1990.0 302.3L1994.2 301.1L1998.4 299.8L2002.7 298.7L2006.9 297.5L2011.2 296.5L2015.5 295.4L2019.8 294.5L2024.1 293.5L2028.5 292.6L2032.8 291.7L2037.2 290.9L2041.5 290.1L2045.9 289.3L2050.3 288.6L2054.7 287.8L2059.1 287.1L2063.5 286.4L2067.9 285.8L2072.3 285.1L2076.7 284.4L2081.1 283.8L2085.5 283.1L2090.0 282.4L2094.4 281.8L2098.8 281.1L2103.2 280.4L2107.6 279.8L2112.0 279.1L2116.4 278.3L2120.8 277.6L2125.2 276.9L2129.5 276.1L2133.9 275.3L2138.2 274.4L2142.6 273.5L2146.9 272.6L2151.2 271.7L2155.5 270.7L2159.8 269.7L2164.0 268.6L2168.3 267.5L2172.5 266.3L2176.7 265.0L2181.0 263.7" fill="none" stroke="#e03430" stroke-width="1.90" stroke-linejoin="round" stroke-linecap="butt"/>
<rect x="1772.40" y="595.40" width="9.60" height="9.60" fill="#1c1c1c"/>
<rect x="1842.90" y="509.20" width="9.60" height="9.60" fill="#1c1c1c"/>
<rect x="2031.10" y="376.40" width="9.60" height="9.60" fill="#1c1c1c"/>
<rect x="1701.65" y="675.75" width="10.50" height="10.50" rx="4.0" fill="#e03430"/>
<circle cx="1730.20" cy="504.00" r="5.60" fill="#e03430"/>
<circle cx="1777.40" cy="440.90" r="5.60" fill="#e03430"/>
<circle cx="1824.40" cy="390.90" r="5.60" fill="#e03430"/>
<circle cx="1871.60" cy="364.60" r="5.60" fill="#e03430"/>
<circle cx="1918.40" cy="334.80" r="5.60" fill="#e03430"/>
<circle cx="1989.10" cy="295.00" r="5.60" fill="#e03430"/>
<circle cx="2153.40" cy="276.60" r="5.60" fill="#e03430"/>
<text x="1558.00" y="485.00" font-family='"Liberation Serif", serif' font-size="27.50" text-anchor="middle" fill="#1c1c1c" textLength="189.00" lengthAdjust="spacing" transform="rotate(-90 1558.00 485.00)" >Swelling degree (α)</text>
<text x="1895.30" y="743.00" font-family='"Liberation Serif", serif' font-size="28.00" text-anchor="middle" fill="#1c1c1c" textLength="107.00" lengthAdjust="spacing" >Time (min)</text>
</g>
</svg>
</body></html>
